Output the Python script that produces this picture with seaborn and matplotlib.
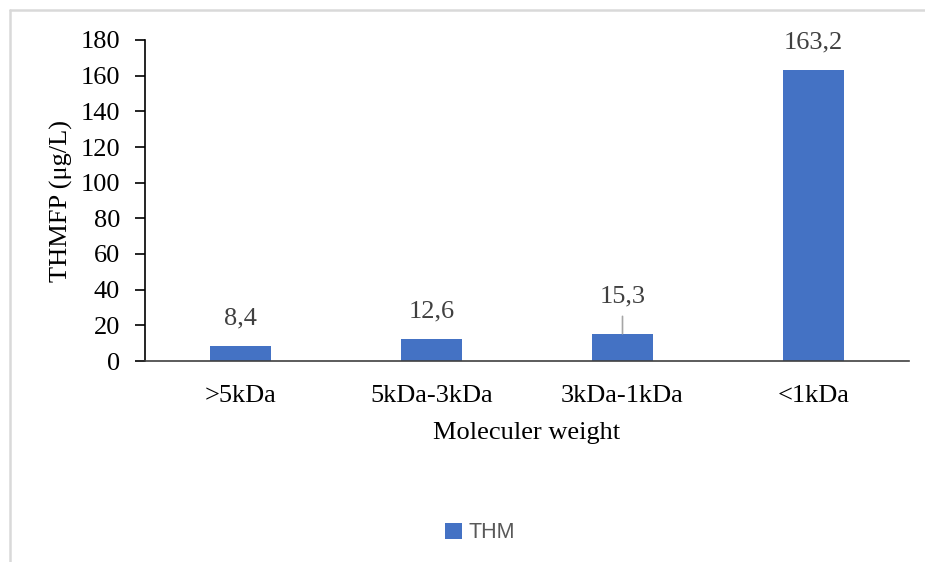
import matplotlib
matplotlib.use("Agg")
import matplotlib.pyplot as plt
from matplotlib.lines import Line2D
from matplotlib.patches import Patch
import seaborn as sns
import pandas as pd

# Molecular-weight fractions and their trihalomethane formation potential
categories = [">5kDa", "5kDa-3kDa", "3kDa-1kDa", "<1kDa"]
thmfp = [8.4, 12.6, 15.3, 163.2]
value_labels = ["8,4", "12,6", "15,3", "163,2"]
y_ticks = [0, 20, 40, 60, 80, 100, 120, 140, 160, 180]

df = pd.DataFrame({"weight": categories, "thmfp": thmfp})

sns.set_theme(style="white")
plt.rcParams["font.family"] = ["Liberation Serif", "DejaVu Serif"]

FS = 19
bar_color = "#4472C4"
fig = plt.figure(figsize=(9.25, 5.62), dpi=100)
ax = fig.add_axes([145 / 925, 1 - 361 / 562, (909 - 145) / 925, (361 - 40) / 562])

sns.barplot(data=df, x="weight", y="thmfp", color=bar_color, width=0.315,
            saturation=1, ax=ax, edgecolor="none")

ax.set_xlim(-0.5, len(categories) - 0.5)
ax.set_ylim(0, 180)
ax.set_yticks(y_ticks)
ax.set_yticklabels([str(t) for t in y_ticks], fontsize=FS, color="black")

# category labels at bar centres, tick marks on the boundaries
ax.set_xticks(range(len(categories)))
ax.set_xticklabels(categories, fontsize=FS, color="black")
ax.set_xticks([i - 0.5 for i in range(len(categories) + 1)], minor=True)
ax.tick_params(axis="x", which="major", length=0, pad=17)
ax.tick_params(axis="x", which="minor", length=7, width=1.2, color="#404040", direction="out")
ax.tick_params(axis="y", which="major", length=7, width=1.2, color="black", direction="out", pad=11,
               left=True)

for side in ["top", "right"]:
    ax.spines[side].set_visible(False)
ax.spines["left"].set_color("black")
ax.spines["left"].set_linewidth(1.2)
ax.spines["bottom"].set_color("#404040")
ax.spines["bottom"].set_linewidth(1.2)

ax.set_ylabel("THMFP (μg/L)", fontsize=FS, color="black", labelpad=5)
ax.set_xlabel("Moleculer weight", fontsize=FS, color="black", labelpad=11)

# value labels above the bars; the third one sits higher with a leader line
for i, (v, txt) in enumerate(zip(thmfp, value_labels)):
    if i == 2:
        ax.annotate(txt, xy=(i, v), xytext=(0, 27), textcoords="offset points",
                    ha="center", va="center", fontsize=FS, color="#404040")
        ax.annotate("", xy=(i, v), xytext=(0, 12.5), textcoords="offset points",
                    arrowprops=dict(arrowstyle="-", color="#a6a6a6", lw=1.2,
                                    shrinkA=0, shrinkB=0))
    else:
        ax.annotate(txt, xy=(i, v), xytext=(0, 19.5), textcoords="offset points",
                    ha="center", va="center", fontsize=FS, color="#404040")

handles = [Patch(facecolor=bar_color, edgecolor="none", label="THM")]
fig.legend(handles=handles, loc="center", bbox_to_anchor=(480 / 925, 1 - 533 / 562),
           frameon=False, handlelength=0.75, handleheight=0.75, handletextpad=0.3,
           prop={"family": ["Liberation Sans", "DejaVu Sans"], "size": 15.5},
           labelcolor="#595959")

# light frame edges along the top and left of the figure
fig.add_artist(Line2D([10 / 925, 10 / 925], [0, 1 - 10 / 562], transform=fig.transFigure,
                      color="#d9d9d9", lw=1.8))
fig.add_artist(Line2D([10 / 925, 1], [1 - 10 / 562, 1 - 10 / 562], transform=fig.transFigure,
                      color="#d9d9d9", lw=1.8))

fig.savefig("out.png", dpi=100)
